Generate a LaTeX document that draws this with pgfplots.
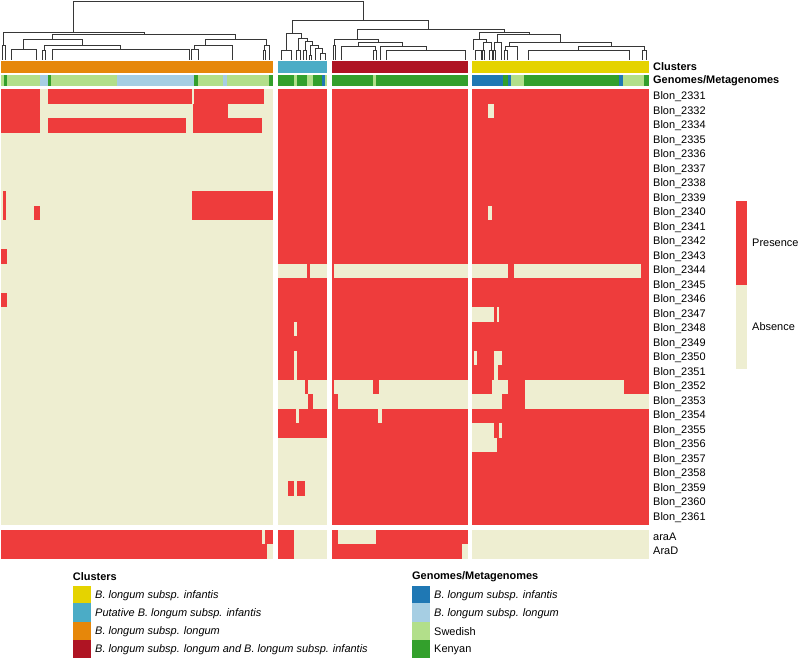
\documentclass[border=0pt]{standalone}
\usepackage{fontspec}
\setmainfont{Liberation Sans}
\usepackage{pgfplots}
\pgfplotsset{compat=1.18}

\definecolor{pr}{RGB}{238,60,60}
\definecolor{ab}{RGB}{238,238,209}
\definecolor{clor}{RGB}{230,135,10}
\definecolor{cllb}{RGB}{75,172,198}
\definecolor{cldr}{RGB}{175,20,35}
\definecolor{clye}{RGB}{229,211,0}
\definecolor{gdb}{RGB}{31,120,180}
\definecolor{glb}{RGB}{166,206,227}
\definecolor{glg}{RGB}{178,223,138}
\definecolor{gdg}{RGB}{51,160,44}
\definecolor{dend}{RGB}{55,55,55}

% rectangle x1 y1 x2 y2 colour
\newcommand{\rc}[5]{\addplot[draw=none,fill=#5] coordinates {(#1,#2) (#3,#2) (#3,#4) (#1,#4)};}
% heatmap run: first row, last row, x1, x2, colour
\newcommand{\hm}[5]{%
  \pgfmathsetmacro\ya{89.5+14.5*#1}%
  \pgfmathsetmacro\yb{104+14.5*#2}%
  \edef\tmp{\noexpand\rc{#3}{\ya}{#4}{\yb}{#5}}\tmp}
% araA / AraD rows
\newcommand{\ar}[5]{%
  \pgfmathsetmacro\ya{529.5+14.5*#1}%
  \pgfmathsetmacro\yb{544+14.5*#2}%
  \edef\tmp{\noexpand\rc{#3}{\ya}{#4}{\yb}{#5}}\tmp}
% dendrogram bracket: xl yl xr yr yh
\newcommand{\br}[5]{\addplot[dend,line width=0.75bp] coordinates {(#1,#2) (#1,#5) (#3,#5) (#3,#4)};}

\begin{document}
\fontsize{11}{13}\selectfont
\begin{tikzpicture}
\begin{axis}[
  width=800bp, height=660bp, scale only axis,
  xmin=0, xmax=800, ymin=0, ymax=660,
  y dir=reverse, hide axis, clip=false,
]
\rc{0}{0}{800}{660}{white}

% dendrogram
\br{73.3}{32}{363.3}{20.7}{1.7}
\br{3.3}{45}{144}{34.3}{32}
\br{2.3}{60}{5}{60}{45}
\br{52.7}{39.3}{235.7}{39.3}{34.3}
\br{23.3}{49.3}{82}{45}{39.3}
\br{11}{60}{36.7}{60}{49.3}
\br{44}{50}{120.7}{49.3}{45}
\br{42.7}{60}{45.3}{60}{50}
\br{52.7}{60}{189.3}{60}{49.3}
\br{205}{45}{266.7}{45}{39.3}
\br{194.3}{49.3}{232.3}{60}{45}
\br{191}{60}{198}{60}{49.3}
\br{264.3}{50}{269.3}{60}{45}
\br{263}{60}{265.7}{60}{50}
\br{292.7}{33.3}{428.3}{29.3}{20.7}
\br{286}{50}{301.7}{38.3}{33.3}
\br{281}{60}{291}{60}{50}
\br{298}{50}{307.3}{41.7}{38.3}
\br{296}{60}{300}{60}{50}
\br{305}{50}{312.7}{45}{41.7}
\br{303.7}{60}{306.3}{60}{50}
\br{310}{55}{318}{48}{45}
\br{309}{60}{311}{60}{55}
\br{315}{60}{322}{53}{48}
\br{320}{60}{325}{60}{53}
\br{357.3}{39.3}{504.3}{32.7}{29.3}
\br{334.3}{45}{378}{42.7}{39.3}
\br{333.3}{60}{335.7}{60}{45}
\br{358.3}{46}{402.3}{46}{42.7}
\br{341}{60}{375}{50}{46}
\br{373.5}{60}{376.5}{60}{50}
\br{380}{60}{426}{50}{46}
\br{386}{60}{465}{60}{50}
\br{479}{39.3}{529.3}{34.3}{32.7}
\br{473.3}{50}{486.7}{42.7}{39.3}
\br{475}{60}{481}{60}{50}
\br{483}{50}{491}{50}{42.7}
\br{482}{60}{484.5}{60}{50}
\br{489.5}{60}{492.5}{60}{50}
\br{497.3}{42.7}{560.7}{42.7}{34.3}
\br{494}{50}{501}{60}{42.7}
\br{493}{60}{495}{60}{50}
\br{509.3}{46}{611.7}{46}{42.7}
\br{505}{50}{517.3}{60}{46}
\br{504}{60}{507}{60}{50}
\br{578.3}{50}{644}{50}{46}
\br{528.3}{60}{629}{60}{50}
\br{642}{60}{646}{60}{50}

% cluster bar
\rc{1.5}{61}{272.7}{72.7}{clor}
\rc{277.5}{61}{326.8}{72.7}{cllb}
\rc{331.8}{61}{467.5}{72.7}{cldr}
\rc{472.2}{61}{649.3}{72.7}{clye}

% genomes / metagenomes bar
\rc{1.5}{75}{4}{86}{glg}
\rc{4}{75}{6.7}{86}{gdg}
\rc{6.7}{75}{40}{86}{glg}
\rc{40}{75}{48.3}{86}{glb}
\rc{48.3}{75}{50.7}{86}{gdg}
\rc{50.7}{75}{116.7}{86}{glg}
\rc{116.7}{75}{194.3}{86}{glb}
\rc{194.3}{75}{197.7}{86}{gdg}
\rc{197.7}{75}{222.7}{86}{glg}
\rc{222.7}{75}{226.7}{86}{glb}
\rc{226.7}{75}{269.3}{86}{glg}
\rc{269.3}{75}{272.7}{86}{gdg}
\rc{277.5}{75}{294}{86}{gdg}
\rc{294}{75}{296.7}{86}{glg}
\rc{296.7}{75}{307.3}{86}{gdg}
\rc{307.3}{75}{313.3}{86}{glg}
\rc{313.3}{75}{322}{86}{gdg}
\rc{322}{75}{324.5}{86}{gdb}
\rc{324.5}{75}{326.8}{86}{glg}
\rc{331.8}{75}{373.3}{86}{gdg}
\rc{373.3}{75}{376}{86}{glg}
\rc{376}{75}{467.5}{86}{gdg}
\rc{472.2}{75}{502.7}{86}{gdb}
\rc{502.7}{75}{508.3}{86}{gdg}
\rc{508.3}{75}{510.7}{86}{gdb}
\rc{510.7}{75}{524.3}{86}{glg}
\rc{524.3}{75}{619}{86}{gdg}
\rc{619}{75}{623.3}{86}{gdb}
\rc{623.3}{75}{644}{86}{glg}
\rc{644}{75}{649.3}{86}{gdg}

% heatmap: B. longum subsp. longum cluster
\hm{0}{29}{1.5}{272.7}{ab}
\hm{0}{0}{1.5}{40}{pr}
\hm{0}{0}{48.3}{192.3}{pr}
\hm{0}{0}{193.5}{264.3}{pr}
\hm{1}{1}{1.5}{40}{pr}
\hm{1}{1}{192.7}{228.3}{pr}
\hm{2}{2}{1.5}{40}{pr}
\hm{2}{2}{48.3}{186}{pr}
\hm{2}{2}{192.7}{261.7}{pr}
\hm{7}{8}{3.3}{6}{pr}
\hm{7}{8}{192.3}{272.7}{pr}
\hm{8}{8}{34.3}{40}{pr}
\hm{11}{11}{1.5}{6.7}{pr}
\hm{14}{14}{1.5}{6.7}{pr}
\ar{0}{1}{1.5}{272.7}{pr}
\ar{0}{0}{261.7}{265}{ab}
\ar{1}{1}{266.7}{272.7}{ab}

% putative infantis cluster
\hm{0}{29}{277.5}{326.8}{pr}
\hm{12}{12}{277.5}{307.3}{ab}
\hm{12}{12}{310}{326.8}{ab}
\hm{16}{16}{294}{296.7}{ab}
\hm{18}{19}{294}{296.7}{ab}
\hm{20}{20}{277.5}{305}{ab}
\hm{20}{20}{307.7}{326.8}{ab}
\hm{21}{21}{277.5}{307.7}{ab}
\hm{21}{21}{312.7}{326.8}{ab}
\hm{22}{22}{296}{299.3}{ab}
\hm{24}{29}{277.5}{326.8}{ab}
\hm{27}{27}{288.3}{294}{pr}
\hm{27}{27}{296.7}{305}{pr}
\ar{0}{1}{277.5}{294}{pr}
\ar{0}{1}{294}{326.8}{ab}

% longum and infantis cluster
\hm{0}{29}{331.8}{467.5}{pr}
\hm{12}{12}{334.3}{467.5}{ab}
\hm{20}{20}{334.3}{373.3}{ab}
\hm{20}{20}{379}{467.5}{ab}
\hm{21}{21}{337.7}{467.5}{ab}
\hm{22}{22}{378.3}{381.7}{ab}
\ar{0}{1}{331.8}{467.5}{pr}
\ar{0}{0}{337.7}{376}{ab}
\ar{1}{1}{462.3}{467.5}{ab}

% infantis cluster
\hm{0}{29}{472.2}{649.3}{pr}
\hm{1}{1}{488.3}{494.3}{ab}
\hm{8}{8}{488.3}{491.7}{ab}
\hm{12}{12}{472.2}{508}{ab}
\hm{12}{12}{514}{641}{ab}
\hm{15}{15}{472.2}{494}{ab}
\hm{15}{15}{496.7}{499.3}{ab}
\hm{18}{18}{474}{477.3}{ab}
\hm{18}{18}{494.3}{502.3}{ab}
\hm{19}{19}{494.3}{497.7}{ab}
\hm{20}{20}{491.7}{508}{ab}
\hm{20}{20}{525}{624}{ab}
\hm{21}{21}{472.2}{502.3}{ab}
\hm{21}{21}{525}{649.3}{ab}
\hm{23}{23}{472.2}{494}{ab}
\hm{23}{23}{499.3}{502.3}{ab}
\hm{24}{24}{472.2}{496.7}{ab}
\ar{0}{1}{472.2}{649.3}{ab}

% annotation titles
\node[anchor=west,inner sep=0pt] at (axis cs:653,66.5) {\textbf{Clusters}};
\node[anchor=west,inner sep=0pt] at (axis cs:653,80.5) {\textbf{Genomes/Metagenomes}};

% row labels
\node[anchor=west,inner sep=0pt] at (axis cs:653,96.75) {Blon\_2331};
\node[anchor=west,inner sep=0pt] at (axis cs:653,111.25) {Blon\_2332};
\node[anchor=west,inner sep=0pt] at (axis cs:653,125.75) {Blon\_2334};
\node[anchor=west,inner sep=0pt] at (axis cs:653,140.25) {Blon\_2335};
\node[anchor=west,inner sep=0pt] at (axis cs:653,154.75) {Blon\_2336};
\node[anchor=west,inner sep=0pt] at (axis cs:653,169.25) {Blon\_2337};
\node[anchor=west,inner sep=0pt] at (axis cs:653,183.75) {Blon\_2338};
\node[anchor=west,inner sep=0pt] at (axis cs:653,198.25) {Blon\_2339};
\node[anchor=west,inner sep=0pt] at (axis cs:653,212.75) {Blon\_2340};
\node[anchor=west,inner sep=0pt] at (axis cs:653,227.25) {Blon\_2341};
\node[anchor=west,inner sep=0pt] at (axis cs:653,241.75) {Blon\_2342};
\node[anchor=west,inner sep=0pt] at (axis cs:653,256.25) {Blon\_2343};
\node[anchor=west,inner sep=0pt] at (axis cs:653,270.75) {Blon\_2344};
\node[anchor=west,inner sep=0pt] at (axis cs:653,285.25) {Blon\_2345};
\node[anchor=west,inner sep=0pt] at (axis cs:653,299.75) {Blon\_2346};
\node[anchor=west,inner sep=0pt] at (axis cs:653,314.25) {Blon\_2347};
\node[anchor=west,inner sep=0pt] at (axis cs:653,328.75) {Blon\_2348};
\node[anchor=west,inner sep=0pt] at (axis cs:653,343.25) {Blon\_2349};
\node[anchor=west,inner sep=0pt] at (axis cs:653,357.75) {Blon\_2350};
\node[anchor=west,inner sep=0pt] at (axis cs:653,372.25) {Blon\_2351};
\node[anchor=west,inner sep=0pt] at (axis cs:653,386.75) {Blon\_2352};
\node[anchor=west,inner sep=0pt] at (axis cs:653,401.25) {Blon\_2353};
\node[anchor=west,inner sep=0pt] at (axis cs:653,415.75) {Blon\_2354};
\node[anchor=west,inner sep=0pt] at (axis cs:653,430.25) {Blon\_2355};
\node[anchor=west,inner sep=0pt] at (axis cs:653,444.75) {Blon\_2356};
\node[anchor=west,inner sep=0pt] at (axis cs:653,459.25) {Blon\_2357};
\node[anchor=west,inner sep=0pt] at (axis cs:653,473.75) {Blon\_2358};
\node[anchor=west,inner sep=0pt] at (axis cs:653,488.25) {Blon\_2359};
\node[anchor=west,inner sep=0pt] at (axis cs:653,502.75) {Blon\_2360};
\node[anchor=west,inner sep=0pt] at (axis cs:653,517.25) {Blon\_2361};
\node[anchor=west,inner sep=0pt] at (axis cs:653,536.75) {araA};
\node[anchor=west,inner sep=0pt] at (axis cs:653,551.25) {AraD};

% presence / absence legend
\rc{736}{201}{747}{285}{pr}
\rc{736}{285}{747}{369}{ab}
\node[anchor=west,inner sep=0pt] at (axis cs:752,243) {Presence};
\node[anchor=west,inner sep=0pt] at (axis cs:752,327) {Absence};

% clusters legend
\node[anchor=west,inner sep=0pt] at (axis cs:72.7,577) {\textbf{Clusters}};
\rc{72.7}{585.7}{90.7}{603.3}{clye}
\rc{72.7}{603.3}{90.7}{621.7}{cllb}
\rc{72.7}{621.7}{90.7}{640}{clor}
\rc{72.7}{640}{90.7}{657.7}{cldr}
\node[anchor=west,inner sep=0pt] at (axis cs:95,596) {\textit{B. longum subsp. infantis}};
\node[anchor=west,inner sep=0pt] at (axis cs:95,614) {\textit{Putative B. longum subsp. infantis}};
\node[anchor=west,inner sep=0pt] at (axis cs:95,632) {\textit{B. longum subsp. longum}};
\node[anchor=west,inner sep=0pt] at (axis cs:95,650) {\textit{B. longum subsp. longum and B. longum subsp. infantis}};

% genomes legend
\node[anchor=west,inner sep=0pt] at (axis cs:412,577) {\textbf{Genomes/Metagenomes}};
\rc{412}{585.7}{430}{603.3}{gdb}
\rc{412}{603.3}{430}{621.7}{glb}
\rc{412}{621.7}{430}{640}{glg}
\rc{412}{640}{430}{657.7}{gdg}
\node[anchor=west,inner sep=0pt] at (axis cs:434,596) {\textit{B. longum subsp. infantis}};
\node[anchor=west,inner sep=0pt] at (axis cs:434,614) {\textit{B. longum subsp. longum}};
\node[anchor=west,inner sep=0pt] at (axis cs:434,632) {Swedish};
\node[anchor=west,inner sep=0pt] at (axis cs:434,650) {Kenyan};
\end{axis}
\end{tikzpicture}
\end{document}
